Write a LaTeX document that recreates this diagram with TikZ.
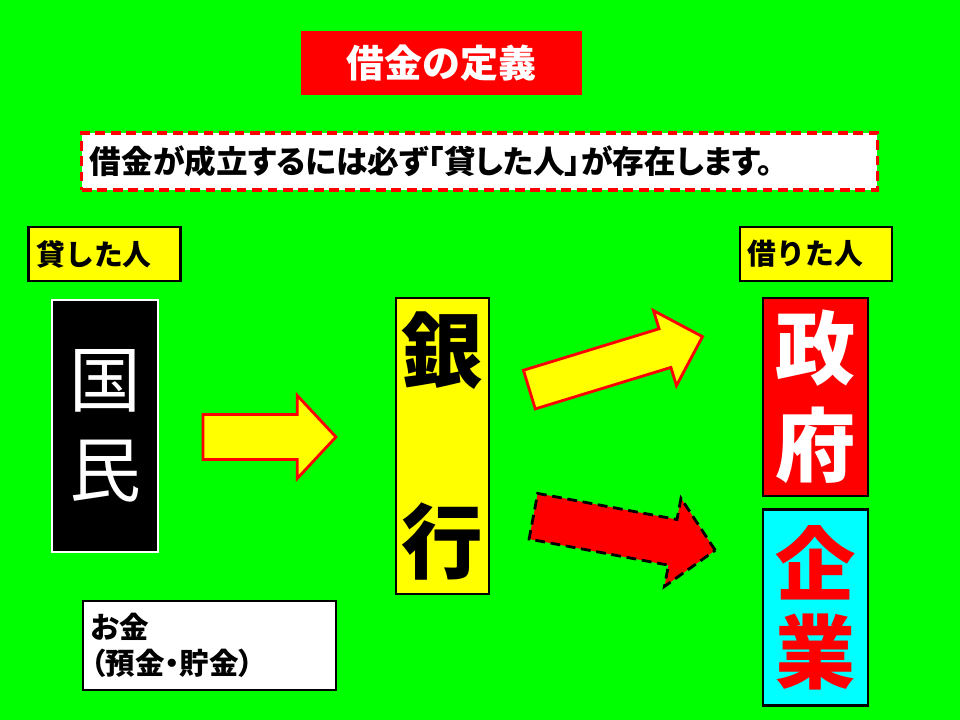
\documentclass[tikz,border=0pt]{standalone}
\usepackage{fontspec}
\setmainfont{Noto Sans CJK JP}
\newfontfamily\propfont{Noto Sans CJK JP}[RawFeature=+palt]
\usepackage{tikz}
\usetikzlibrary{shapes.arrows, positioning}
\definecolor{aqua}{RGB}{0,255,255}
\definecolor{lime}{RGB}{0,255,0}
\definecolor{pure red}{RGB}{255,0,0}
\definecolor{pure yellow}{RGB}{255,255,0}
\tikzset{
    box/.style={rectangle, draw, line width=2pt, inner sep=0pt, align=center},
    tag/.style={rectangle, draw, line width=2pt, fill=pure yellow, minimum width=3.8cm, minimum height=1.35cm, text width=3.4cm, align=left, inner xsep=0.2cm, font=\bfseries\fontsize{20.5pt}{25pt}\selectfont},
    bigarrow/.style={single arrow, draw, line width=2pt, inner xsep=0pt, anchor=tail},
    dashline/.style={dash pattern=on 7pt off 4pt},
}

\begin{document}
\begin{tikzpicture}[x=0.025cm, y=-0.025cm]
    \useasboundingbox (0,0) rectangle (960,720);
    \fill[lime] (0,0) rectangle (960,720);
    % title and note
    \node[rectangle, fill=pure red, minimum width=7.025cm, minimum height=1.6cm, text=white, font=\bfseries\fontsize{27pt}{32pt}\selectfont] (title) at (441.5,63) {借金の定義};
    \node[rectangle, draw=pure red, dashline, line width=2.2pt, fill=white, minimum width=19.875cm, minimum height=1.425cm, text width=19.475cm, inner xsep=0.2cm, align=left, font=\propfont\bfseries\fontsize{22.5pt}{25pt}\selectfont] (note) at (479.5,161.5) {借金が成立するには必ず「貸した人」が存在します。};
    % lender / borrower tags
    \node[tag] (lender) at (104.5,254) {貸した人};
    \node[tag] (borrower) at (816,254) {借りた人};
    % blocks
    \node[box, draw=white, fill=black, text=white, minimum width=2.65cm, minimum height=6.3cm, font=\fontsize{51pt}{64pt}\selectfont] (kokumin) at (105,426) {国\\民};
    \node[box, fill=pure yellow, minimum width=2.325cm, minimum height=7.4cm, font=\bfseries\fontsize{58pt}{136pt}\selectfont] (ginko) at (442.5,446) {銀\\行};
    \node[box, fill=pure red, text=white, minimum width=2.625cm, minimum height=4.95cm, font=\bfseries\fontsize{57pt}{69pt}\selectfont] (seifu) at (815.5,397) {政\\府};
    \node[box, fill=aqua, text=pure red, minimum width=2.625cm, minimum height=4.9cm, below=0.275cm of seifu, font=\bfseries\fontsize{57pt}{62pt}\selectfont] (kigyo) {企\\業};
    \node[rectangle, draw, line width=2pt, fill=white, minimum width=6.325cm, minimum height=2.225cm, text width=5.925cm, inner xsep=0.2cm, align=left, font=\propfont\bfseries\fontsize{21pt}{25.6pt}\selectfont] (okane) at (209.5,645.5) {お金\\（預金・貯金）};
    % arrows
    \node[bigarrow, draw=pure red, fill=pure yellow, minimum height=3.325cm, inner ysep=0.525cm, single arrow head extend=0.475cm, single arrow tip angle=94] (arrowA) at (201.5,437) {};
    \node[bigarrow, draw=pure red, fill=pure yellow, minimum height=4.525cm, inner ysep=0.47cm, single arrow head extend=0.475cm, single arrow tip angle=90, rotate=17] (arrowB) at (528,390) {};
    \node[bigarrow, draw=black, dashline, fill=pure red, minimum height=4.625cm, inner ysep=0.545cm, single arrow head extend=0.54cm, single arrow tip angle=92, rotate=-10.6] (arrowC) at (532,516) {};
\end{tikzpicture}
\end{document}
